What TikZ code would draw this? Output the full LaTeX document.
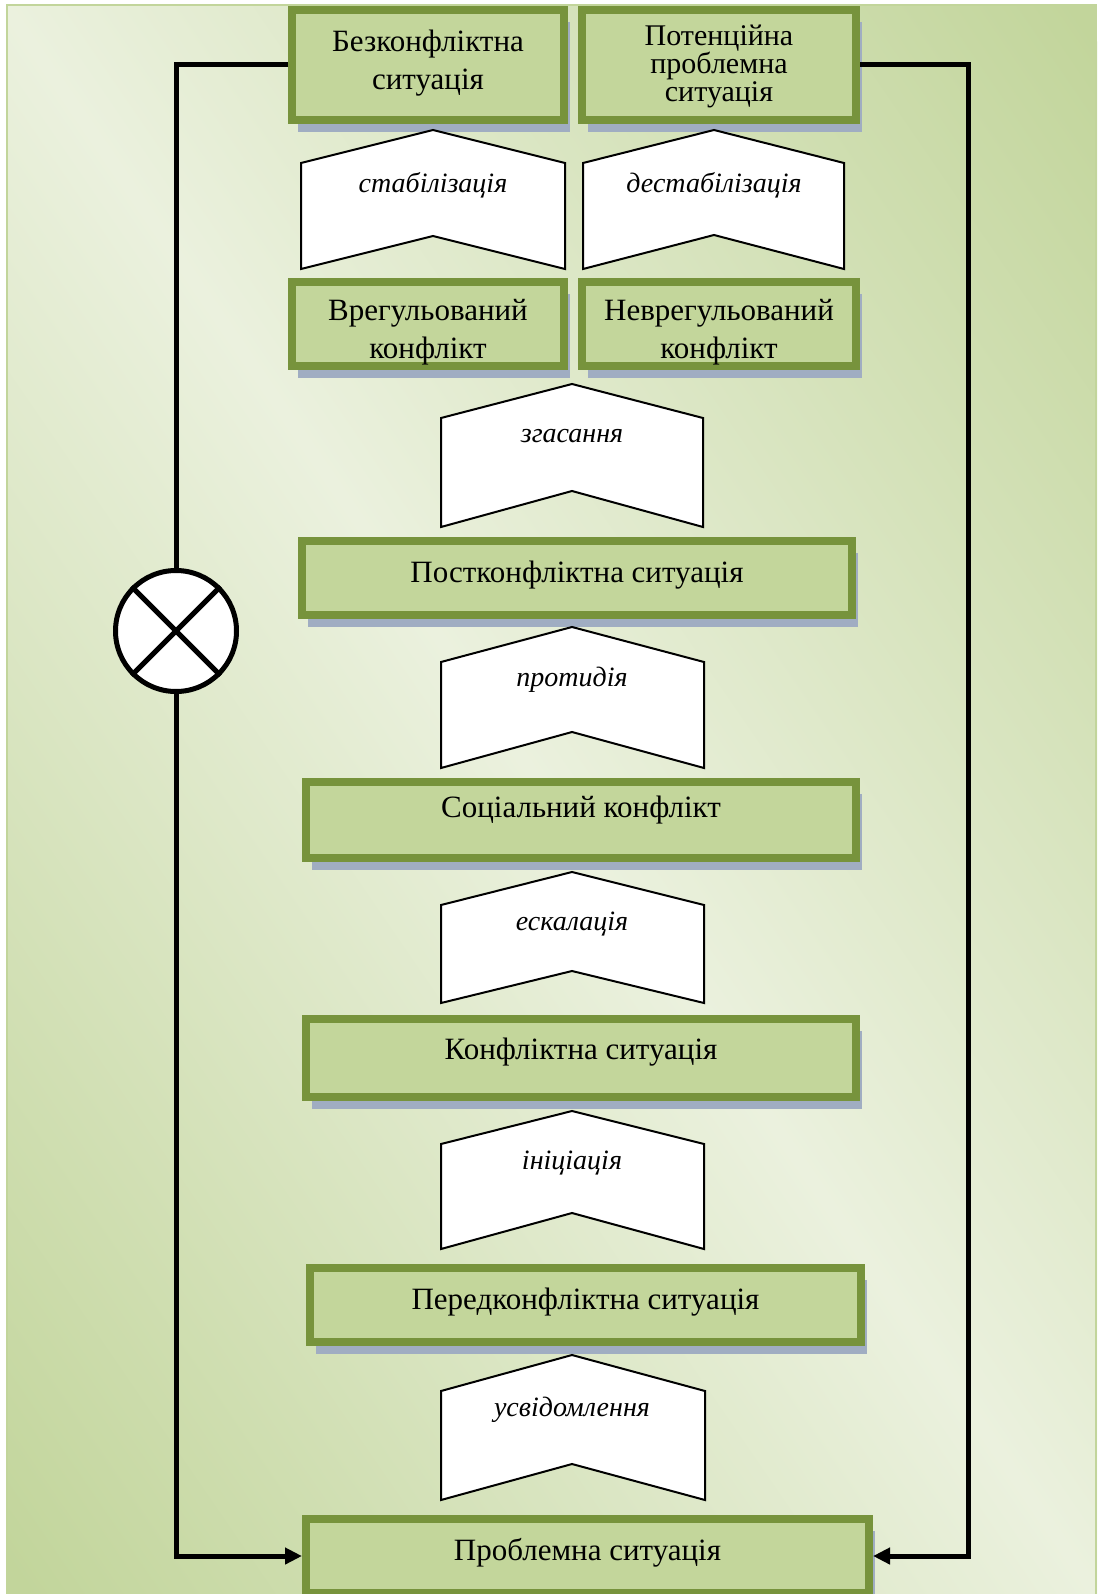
\documentclass[tikz,border=0pt]{standalone}
\usepackage{fontspec}
\setmainfont{Liberation Serif}
\usetikzlibrary{shadows,arrows.meta}
\definecolor{olive}{HTML}{77933C}
\definecolor{lightg}{HTML}{C3D69B}
\definecolor{bgdark}{HTML}{C2D59B}
\definecolor{bglight}{HTML}{EBF1DE}
\definecolor{shadowc}{HTML}{A0ADC2}
\tikzset{
  box/.style={draw=olive, line width=8pt, fill=lightg, inner sep=0pt,
    general shadow={fill=shadowc, shadow xshift=6pt, shadow yshift=-12pt}},
  boxtext/.style={font=\fontsize{31}{38}\selectfont, align=center, inner sep=0pt},
  chev/.style={draw=black, line width=2pt, fill=white, line join=miter},
  chevtext/.style={font=\itshape\fontsize{28}{30}\selectfont, inner sep=0pt},
  conn/.style={draw=black, line width=5pt},
  tip/.style={-{Triangle[length=17pt,width=16pt]}}
}
\begin{document}
\begin{tikzpicture}[x=1pt,y=-1pt]
\useasboundingbox (0,0) rectangle (1097,1594);
% background
\begin{scope}
\clip (7,5) rectangle (1097,1600);
\fill[bgdark] (7,5) rectangle (1097,1600);
\shade[top color=bgdark, bottom color=bgdark, middle color=bglight,
  transform canvas={rotate around={-55.5:(552,802)}}]
  (-600,-78) rectangle (1704,1682);
\end{scope}
\draw[bgdark, line width=2pt] (7,5) rectangle (1096,1600);

% boxes
\node[box, minimum width=272, minimum height=110] (b1) at (428,65) {};
\node[box, minimum width=274, minimum height=110] (b2) at (719,65) {};
\node[box, minimum width=272, minimum height=84] (b3) at (428,324) {};
\node[box, minimum width=274, minimum height=84] (b4) at (719,324) {};
\node[box, minimum width=550, minimum height=74] (b5) at (577,578) {};
\node[box, minimum width=550, minimum height=76] (b6) at (581,820) {};
\node[box, minimum width=550, minimum height=78] (b7) at (581,1058) {};
\node[box, minimum width=551, minimum height=74] (b8) at (585.5,1305) {};
\node[box, minimum width=563, minimum height=74] (b9) at (587.5,1556) {};

% box texts
\node[boxtext] (t1) at (428,63) {Безконфліктна\\ситуація};
\node[boxtext, font={\fontsize{30}{28}\selectfont\lineskiplimit=-50pt}] (t2) at (719,66) {Потенційна\\проблемна\\ситуація};
\node[boxtext] (t3) at (428,332) {Врегульований\\конфлікт};
\node[boxtext] (t4) at (719,332) {Неврегульований\\конфлікт};
\node[boxtext] (t5) at (577,575) {Постконфліктна ситуація};
\node[boxtext] (t6) at (581,810) {Соціальний конфлікт};
\node[boxtext] (t7) at (581,1052) {Конфліктна ситуація};
\node[boxtext] (t8) at (585.5,1302) {Передконфліктна ситуація};
\node[boxtext] (t9) at (587.5,1553) {Проблемна ситуація};

% chevrons
\draw[chev] (301,163) -- (433,130) -- (565,163) -- (565,269) -- (433,236) -- (301,269) -- cycle;
\node[chevtext] (c1) at (433,185) {стабілізація};
\draw[chev] (583,163) -- (714,130) -- (844,163) -- (844,269) -- (714,235) -- (583,269) -- cycle;
\node[chevtext] (c2) at (714,185) {дестабілізація};
\draw[chev] (441,418) -- (572,384) -- (703,418) -- (703,527) -- (572,491) -- (441,527) -- cycle;
\node[chevtext] (c3) at (572,436) {згасання};
\draw[chev] (441,662) -- (572,627) -- (704,662) -- (704,768) -- (572,732) -- (441,768) -- cycle;
\node[chevtext] (c4) at (572,680) {протидія};
\draw[chev] (441,905) -- (572,872) -- (704,905) -- (704,1003) -- (572,971) -- (441,1003) -- cycle;
\node[chevtext] (c5) at (572,924) {ескалація};
\draw[chev] (441,1144) -- (572,1111) -- (704,1144) -- (704,1249) -- (572,1213) -- (441,1249) -- cycle;
\node[chevtext] (c6) at (572,1163) {ініціація};
\draw[chev] (441,1391) -- (572,1355) -- (705,1391) -- (705,1500) -- (572,1464) -- (441,1500) -- cycle;
\node[chevtext] (c7) at (572,1410) {усвідомлення};

% circle with cross
\node[circle, draw=black, line width=5pt, fill=white, minimum size=121, inner sep=0pt] (x) at (176,631) {};
\draw[black, line width=5pt] (x.north west) -- (x.south east);
\draw[black, line width=5pt] (x.north east) -- (x.south west);

% connectors
\coordinate (rc) at (968,65);
\draw[conn] (b1.west) -| (x.north);
\draw[conn, tip] (x.south) |- (b9.west);
\draw[conn, tip] (b2.east) -- (rc) |- (b9.east);
\end{tikzpicture}
\end{document}
